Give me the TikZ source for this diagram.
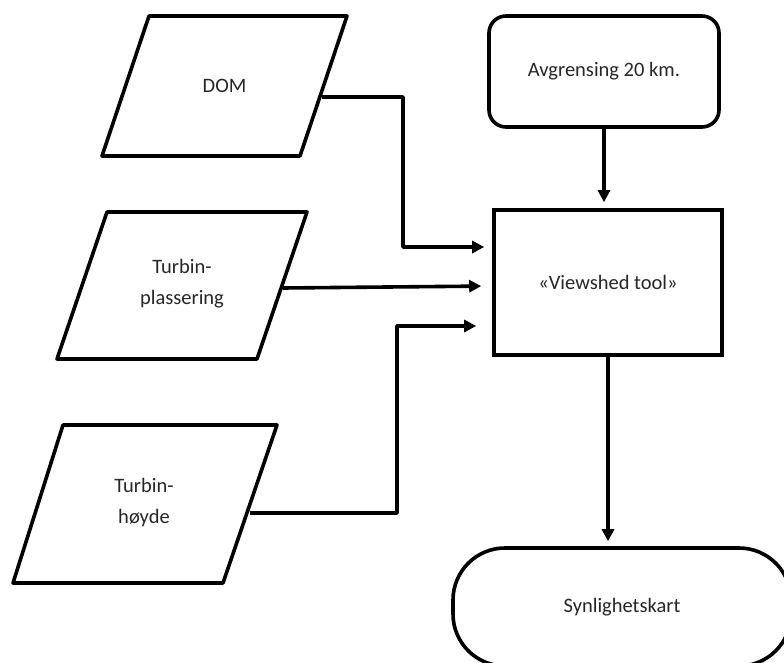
\documentclass[tikz,border=0pt]{standalone}
\usepackage{fontspec}
\setmainfont{Carlito}
\usetikzlibrary{arrows.meta}
\begin{document}
\begin{tikzpicture}[x=1pt,y=-1pt,
  line/.style={line width=3.6pt, line join=round},
  arr/.style={line, -{Triangle[length=12pt,width=12pt]}},
  txt/.style={font=\fontsize{20.5}{31}\selectfont, text=black!85, align=center, inner sep=0pt},
  procbox/.style={draw, line width=3.6pt, minimum width=228pt, minimum height=145pt, txt},
  roundbox/.style={draw, line width=3.6pt, rounded corners=17pt, minimum width=230pt, minimum height=111pt, txt},
  termbox/.style={draw, line width=3.6pt, rounded corners=52pt, minimum width=338pt, minimum height=118pt, txt}]
\useasboundingbox (0,0) rectangle (784,663);
\clip (0,0) rectangle (784,663);
\fill[white] (0,0) rectangle (784,663);

% input parallelograms
\draw[line] (149,16) -- (347,16) -- (300,156) -- (102,156) -- cycle;
\node[txt] (dom) at (224.5,86) {DOM};
\coordinate (domout) at (322,97);

\draw[line] (107,212) -- (307,212) -- (257,359) -- (57,359) -- cycle;
\node[txt] (plass) at (182,284) {Turbin-\\plassering};
\coordinate (plassout) at (283,288);

\draw[line] (63,425) -- (277,425) -- (223,583) -- (13,583) -- cycle;
\node[txt] (hoyde) at (144,503) {Turbin-\\høyde};
\coordinate (hoydeout) at (250,513);

% process nodes
\node[roundbox] (avg) at (604,71.5) {Avgrensing 20 km.};
\node[procbox] (vs) at (608,282.5) {«Viewshed tool»};
\node[termbox] (term) at (622,607) {Synlighetskart};

% connectors
\draw[arr, shorten >=8pt] (domout) -| (403,247) -- (vs.west |- 0,247);
\draw[arr, shorten >=11pt] (plassout) -- (vs.west |- 0,286);
\draw[arr, shorten >=16pt] (hoydeout) -| (397,326) -- (vs.west |- 0,326);
\draw[arr, shorten >=6pt] (avg.south) -- (avg.south |- vs.north);
\draw[arr, shorten >=5pt] (vs.south) -- (vs.south |- term.north);
\end{tikzpicture}
\end{document}
